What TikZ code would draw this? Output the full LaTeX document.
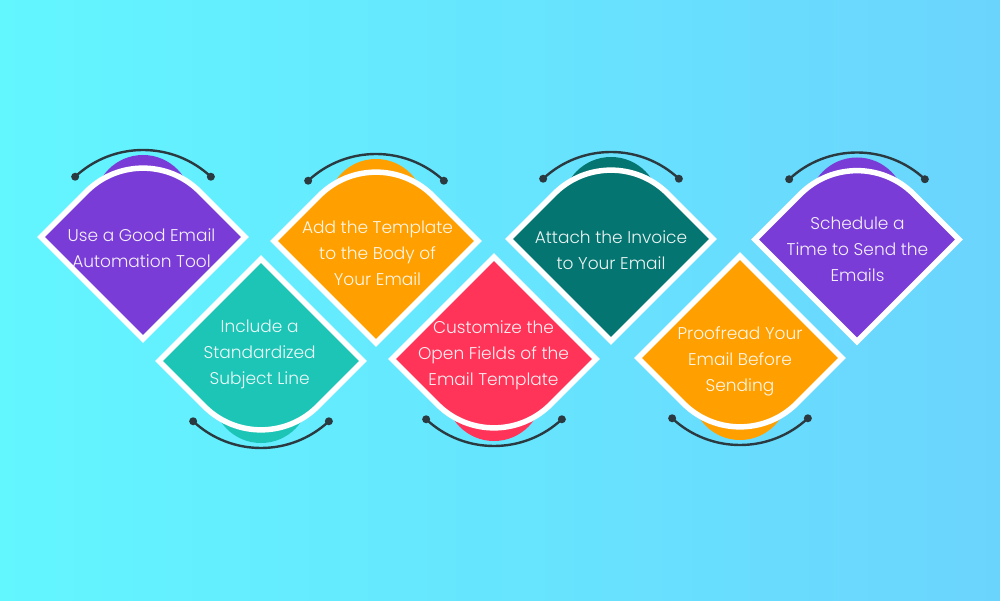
\documentclass[tikz,border=0pt]{standalone}
\usepackage{fontspec}
\setmainfont{Poppins}[UprightFont=* Light]
\definecolor{bgL}{HTML}{62F6FF}
\definecolor{bgR}{HTML}{6BD4FD}
\definecolor{cpurple}{HTML}{7A3CD7}
\definecolor{corange}{HTML}{FFA000}
\definecolor{cteal}{HTML}{1CC5B5}
\definecolor{cdteal}{HTML}{047570}
\definecolor{cred}{HTML}{FF3458}
\definecolor{darc}{HTML}{2B3A40}
\tikzset{
  shapeedge/.style={draw=white, line width=5.5pt, line join=miter},
  handle/.style={draw=darc, line width=2.4pt},
  steplabel/.style={text=white, text opacity=0.92, align=center, font=\fontsize{17}{26}\selectfont, inner sep=0pt},
}
\newcommand\stepshape[4]{%
  \begin{scope}[shift={(#1,#2)}, yscale=#4]
    \fill[#3] (0pt,33.6pt) circle[radius=48.4pt];
    \draw[shapeedge, fill=#3] (0pt,-102pt) -- (-102pt,0pt) -- (-56.57pt,45.43pt)
      arc[start angle=135, end angle=45, radius=80pt] -- (102pt,0pt) -- cycle;
    \draw[handle] (-67.86pt,60.27pt) arc[start angle=133, end angle=47, radius=99.5pt];
    \fill[darc] (-67.86pt,60.27pt) circle[radius=4pt];
    \fill[darc] (67.86pt,60.27pt) circle[radius=4pt];
  \end{scope}}
\begin{document}
\begin{tikzpicture}[x=1pt,y=1pt]
  \useasboundingbox (0,0) rectangle (1000,600);
  \shade[left color=bgL, right color=bgR] (0,0) rectangle (1000,600);
  % top row
  \stepshape{143}{363}{cpurple}{1}
  \stepshape{376}{359}{corange}{1}
  \stepshape{611}{361}{cdteal}{1}
  \stepshape{857}{360.5}{cpurple}{1}
  % bottom row
  \stepshape{261}{239}{cteal}{-1}
  \stepshape{494}{241}{cred}{-1}
  \stepshape{740}{242}{corange}{-1}
  % labels
  \node[steplabel] (s1) at (141.5,352) {Use a Good Email\\Automation Tool};
  \node[steplabel] (s2) at (259.7,246) {Include a\\Standardized\\Subject Line};
  \node[steplabel] (s3) at (377.5,347) {Add the Template\\to the Body of\\Your Email};
  \node[steplabel] (s4) at (493.5,245) {Customize the\\Open Fields of the\\Email Template};
  \node[steplabel] (s5) at (611,350) {Attach the Invoice\\to Your Email};
  \node[steplabel] (s6) at (740,239) {Proofread Your\\Email Before\\Sending};
  \node[steplabel] (s7) at (857.5,351) {Schedule a\\Time to Send the\\Emails};
\end{tikzpicture}
\end{document}
